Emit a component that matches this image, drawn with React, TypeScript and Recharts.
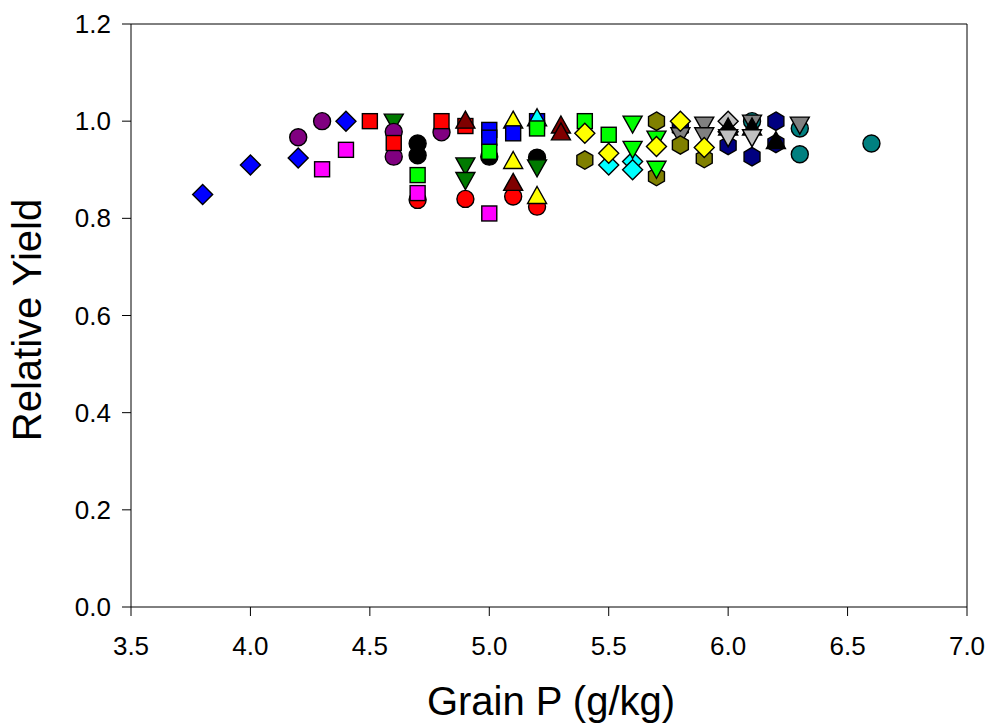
import React from 'react'
import {
  ScatterChart,
  Scatter,
  XAxis,
  YAxis,
  ReferenceLine,
} from 'recharts'

type Pt = { x: number; y: number }

// grain P (g/kg) vs relative yield, one array per symbol series
const blueDiamond: Pt[] = [
  { x: 3.8, y: 0.849 }, { x: 4.0, y: 0.91 }, { x: 4.2, y: 0.924 }, { x: 4.4, y: 1.0 },
]
const purpleCircle: Pt[] = [
  { x: 4.2, y: 0.967 }, { x: 4.3, y: 1.0 }, { x: 4.6, y: 0.978 }, { x: 4.6, y: 0.927 }, { x: 4.8, y: 0.977 },
]
const magentaSquare: Pt[] = [
  { x: 4.3, y: 0.901 }, { x: 4.4, y: 0.941 }, { x: 4.7, y: 0.852 }, { x: 5.0, y: 0.81 },
]
const redSquare: Pt[] = [
  { x: 4.5, y: 1.0 }, { x: 4.6, y: 0.955 }, { x: 4.8, y: 1.0 }, { x: 4.9, y: 0.99 },
]
const greenInvTri: Pt[] = [
  { x: 4.6, y: 1.0 }, { x: 4.9, y: 0.91 }, { x: 4.9, y: 0.88 }, { x: 5.2, y: 0.906 },
]
const blackCircle: Pt[] = [
  { x: 4.7, y: 0.954 }, { x: 4.7, y: 0.93 }, { x: 5.0, y: 0.927 }, { x: 5.2, y: 0.925 },
]
const limeSquare: Pt[] = [
  { x: 4.7, y: 0.889 }, { x: 5.0, y: 0.937 }, { x: 5.2, y: 0.985 }, { x: 5.4, y: 1.0 }, { x: 5.5, y: 0.972 },
]
const redCircle: Pt[] = [
  { x: 4.7, y: 0.838 }, { x: 4.9, y: 0.84 }, { x: 5.1, y: 0.845 }, { x: 5.2, y: 0.824 },
]
const darkRedTri: Pt[] = [
  { x: 4.9, y: 1.0 }, { x: 5.1, y: 0.872 }, { x: 5.3, y: 0.99 }, { x: 5.3, y: 0.976 },
]
const blueSquare: Pt[] = [
  { x: 5.0, y: 0.982 }, { x: 5.0, y: 0.966 }, { x: 5.1, y: 0.975 }, { x: 5.2, y: 1.0 },
]
const yellowTri: Pt[] = [
  { x: 5.1, y: 1.0 }, { x: 5.1, y: 0.917 }, { x: 5.2, y: 0.845 },
]
const cyanTri: Pt[] = [{ x: 5.2, y: 1.005 }]
const yellowDiamond: Pt[] = [
  { x: 5.4, y: 0.975 }, { x: 5.5, y: 0.934 }, { x: 5.7, y: 0.948 }, { x: 5.8, y: 1.0 }, { x: 5.9, y: 0.946 },
]
const oliveHex: Pt[] = [
  { x: 5.4, y: 0.92 }, { x: 5.7, y: 1.0 }, { x: 5.7, y: 0.886 }, { x: 5.8, y: 0.951 }, { x: 5.9, y: 0.923 },
]
const cyanDiamond: Pt[] = [
  { x: 5.5, y: 0.91 }, { x: 5.6, y: 0.917 }, { x: 5.6, y: 0.9 },
]
const limeInvTri: Pt[] = [
  { x: 5.6, y: 0.996 }, { x: 5.6, y: 0.944 }, { x: 5.7, y: 0.965 }, { x: 5.7, y: 0.903 },
]
const grayInvTri: Pt[] = [
  { x: 5.8, y: 0.972 }, { x: 5.9, y: 0.994 }, { x: 5.9, y: 0.972 }, { x: 6.1, y: 0.998 }, { x: 6.3, y: 0.994 },
]
const navyHex: Pt[] = [
  { x: 5.8, y: 0.986 }, { x: 6.0, y: 0.95 }, { x: 6.1, y: 0.927 }, { x: 6.2, y: 1.0 }, { x: 6.2, y: 0.954 },
]
const blackTri: Pt[] = [
  { x: 6.0, y: 0.986 }, { x: 6.1, y: 0.986 }, { x: 6.2, y: 0.958 },
]
const silverDiamond: Pt[] = [{ x: 6.0, y: 1.0 }, { x: 6.0, y: 0.978 }]
const silverInvTri: Pt[] = [{ x: 6.0, y: 0.968 }, { x: 6.1, y: 0.968 }]
const tealCircle: Pt[] = [
  { x: 6.1, y: 1.0 }, { x: 6.3, y: 0.985 }, { x: 6.3, y: 0.932 }, { x: 6.6, y: 0.954 },
]

const xTicks = [3.5, 4.0, 4.5, 5.0, 5.5, 6.0, 6.5, 7.0]
const yTicks = [0, 0.2, 0.4, 0.6, 0.8, 1.0, 1.2]

const FONT = 'Liberation Sans, Arial, sans-serif'

type Kind = 'circle' | 'square' | 'diamond' | 'tri' | 'invtri' | 'hex'

function marker(kind: Kind, fill: string) {
  return (p: any) => {
    const { cx, cy } = p
    if (cx == null || cy == null) return <g />
    const common = { fill, stroke: '#000', strokeWidth: 1.4 }
    if (kind === 'circle') return <circle cx={cx} cy={cy} r={8.5} {...common} />
    if (kind === 'square')
      return <rect x={cx - 7.5} y={cy - 7.5} width={15} height={15} {...common} />
    let pts: number[][] = []
    if (kind === 'diamond') pts = [[0, -10], [10, 0], [0, 10], [-10, 0]]
    if (kind === 'tri') pts = [[0, -10], [9.5, 7], [-9.5, 7]]
    if (kind === 'invtri') pts = [[-9.5, -7], [9.5, -7], [0, 10]]
    if (kind === 'hex')
      pts = [0, 1, 2, 3, 4, 5].map((i) => {
        const a = (Math.PI / 3) * i - Math.PI / 2
        return [9.2 * Math.cos(a), 9.2 * Math.sin(a)]
      })
    return (
      <polygon
        points={pts.map(([dx, dy]) => `${cx + dx},${cy + dy}`).join(' ')}
        {...common}
      />
    )
  }
}

// drawing order: later series sit on top
const SERIES: { name: string; data: Pt[]; kind: Kind; fill: string }[] = [
  { name: 'blackCircle', data: blackCircle, kind: 'circle', fill: '#000000' },
  { name: 'greenInvTri', data: greenInvTri, kind: 'invtri', fill: '#007a00' },
  { name: 'purpleCircle', data: purpleCircle, kind: 'circle', fill: '#800080' },
  { name: 'redSquare', data: redSquare, kind: 'square', fill: '#ff0000' },
  { name: 'blueDiamond', data: blueDiamond, kind: 'diamond', fill: '#0000ff' },
  { name: 'redCircle', data: redCircle, kind: 'circle', fill: '#ff0000' },
  { name: 'magentaSquare', data: magentaSquare, kind: 'square', fill: '#ff00ff' },
  { name: 'yellowTri', data: yellowTri, kind: 'tri', fill: '#ffff00' },
  { name: 'darkRedTri', data: darkRedTri, kind: 'tri', fill: '#800000' },
  { name: 'blueSquare', data: blueSquare, kind: 'square', fill: '#0000ff' },
  { name: 'cyanTri', data: cyanTri, kind: 'tri', fill: '#00ffff' },
  { name: 'limeSquare', data: limeSquare, kind: 'square', fill: '#00ff00' },
  { name: 'navyHex', data: navyHex, kind: 'hex', fill: '#000080' },
  { name: 'silverDiamond', data: silverDiamond, kind: 'diamond', fill: '#c0c0c0' },
  { name: 'tealCircle', data: tealCircle, kind: 'circle', fill: '#008080' },
  { name: 'grayInvTri', data: grayInvTri, kind: 'invtri', fill: '#808080' },
  { name: 'oliveHex', data: oliveHex, kind: 'hex', fill: '#808000' },
  { name: 'cyanDiamond', data: cyanDiamond, kind: 'diamond', fill: '#00ffff' },
  { name: 'limeInvTri', data: limeInvTri, kind: 'invtri', fill: '#00ff00' },
  { name: 'yellowDiamond', data: yellowDiamond, kind: 'diamond', fill: '#ffff00' },
  { name: 'blackTri', data: blackTri, kind: 'tri', fill: '#000000' },
  { name: 'silverInvTri', data: silverInvTri, kind: 'invtri', fill: '#c0c0c0' },
]

const XTick = (p: any) => (
  <text
    x={p.x}
    y={p.y}
    dy={17}
    textAnchor="middle"
    fontSize={26}
    fontFamily={FONT}
    fill="#000"
  >
    {Number(p.payload.value).toFixed(1)}
  </text>
)

const YTick = (p: any) => (
  <text
    x={p.x}
    y={p.y}
    dy={9}
    textAnchor="end"
    fontSize={26}
    fontFamily={FONT}
    fill="#000"
  >
    {Number(p.payload.value).toFixed(1)}
  </text>
)

export default function App() {
  return (
    <div style={{ position: 'absolute', left: 0, top: 0, background: '#fff' }}>
      <ScatterChart
        width={987}
        height={726}
        margin={{ top: 24, right: 20, left: 0, bottom: 0 }}
      >
        <XAxis
          type="number"
          dataKey="x"
          domain={[3.5, 7]}
          ticks={xTicks}
          height={119}
          stroke="#000"
          tickSize={9}
          tickMargin={22}
          tick={XTick}
          allowDataOverflow
          label={{
            content: () => (
              <text
                x={551}
                y={715}
                textAnchor="middle"
                fontSize={40}
                fontFamily={FONT}
                fill="#000"
              >
                Grain P (g/kg)
              </text>
            ),
          }}
        />
        <YAxis
          type="number"
          dataKey="y"
          domain={[0, 1.2]}
          ticks={yTicks}
          width={131}
          stroke="#000"
          tickSize={9}
          tickMargin={11}
          tick={YTick}
          allowDataOverflow
          label={{
            content: () => (
              <text
                x={41}
                y={320}
                textAnchor="middle"
                fontSize={40}
                fontFamily={FONT}
                fill="#000"
                transform="rotate(-90 41 320)"
              >
                Relative Yield
              </text>
            ),
          }}
        />
        <ReferenceLine y={1.2} stroke="#000" />
        <ReferenceLine x={7} stroke="#000" />
        {SERIES.map((s) => (
          <Scatter
            key={s.name}
            name={s.name}
            data={s.data}
            shape={marker(s.kind, s.fill)}
            isAnimationActive={false}
          />
        ))}
      </ScatterChart>
    </div>
  )
}
